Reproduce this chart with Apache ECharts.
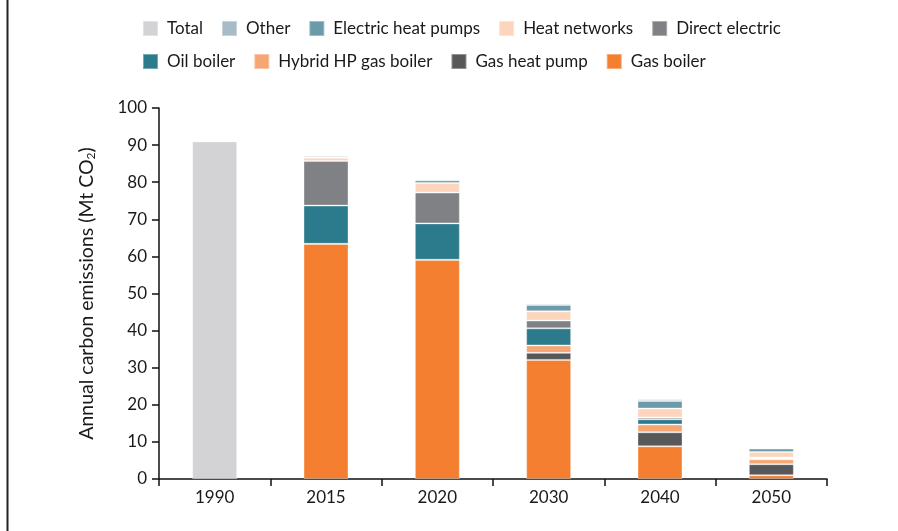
<!DOCTYPE html>
<html>
<head>
<meta charset="utf-8">
<script src="https://cdn.jsdelivr.net/npm/echarts@6/dist/echarts.min.js"></script>
<style>
  html, body { margin: 0; padding: 0; background: #fff; }
  #chart { width: 898px; height: 531px; }
</style>
</head>
<body>
<div id="chart"></div>
<script>
var years = ['1990', '2015', '2020', '2030', '2040', '2050'];

// Mt CO2
var total          = [91.0, '-', '-', '-', '-', '-'];
var gasBoiler      = ['-', 63.4, 59.1, 32.1, 8.8, 1.0];
var gasHeatPump    = ['-', 0, 0, 1.9, 3.8, 3.0];
var hybridHP       = ['-', 0, 0, 2.0, 2.1, 1.3];
var oilBoiler      = ['-', 10.3, 9.8, 4.6, 1.4, 0.3];
var directElectric = ['-', 12.0, 8.3, 2.1, 0.5, 0.2];
var heatNetworks   = ['-', 0.9, 2.6, 2.5, 2.4, 1.5];
var electricHP     = ['-', 0.2, 0.7, 1.7, 2.0, 0.9];
var other          = ['-', 0.4, 0.3, 0.4, 0.5, 0.3];

var legendRow1 = ['Total', 'Other', 'Electric heat pumps', 'Heat networks', 'Direct electric'];
var legendRow2 = ['Oil boiler', 'Hybrid HP gas boiler', 'Gas heat pump', 'Gas boiler'];

var font = 'Lato';

function bar(name, data, color) {
    return {
        name: name,
        type: 'bar',
        stack: 'all',
        barWidth: 45,
        data: data,
        itemStyle: { color: color, borderColor: 'rgba(255,255,255,0.35)', borderWidth: 1 },
        emphasis: { disabled: true }
    };
}

var myChart = echarts.init(document.getElementById('chart'));

var legendBase = {
    left: 137,
    icon: 'rect',
    itemWidth: 15,
    itemHeight: 15,
    itemGap: 18,
    textStyle: { fontFamily: font, fontSize: 17, color: '#1a1a1a', padding: [0, 0, 0, 4] }
};

var option = {
    animation: false,
    textStyle: { fontFamily: font },
    legend: [
        Object.assign({}, legendBase, { top: 15, data: legendRow1 }),
        Object.assign({}, legendBase, { top: 48, data: legendRow2 })
    ],
    grid: { left: 159, right: 71, top: 108, bottom: 52, containLabel: false },
    xAxis: {
        type: 'category',
        data: years,
        axisLine: { lineStyle: { color: '#111', width: 1.5 } },
        axisTick: { show: true, length: 7, lineStyle: { color: '#111', width: 1.5 } },
        axisLabel: { color: '#1a1a1a', fontSize: 17, fontFamily: font, margin: 10 }
    },
    yAxis: {
        type: 'value',
        min: 0,
        max: 100,
        interval: 10,
        name: 'Annual carbon emissions (Mt CO{s|2})',
        nameLocation: 'middle',
        nameGap: 62,
        nameTextStyle: {
            fontFamily: font, fontSize: 19.5, color: '#1a1a1a',
            rich: { s: { fontFamily: font, fontSize: 12, color: '#1a1a1a', verticalAlign: 'bottom', padding: [7, 0, 0, 0] } }
        },
        axisLine: { show: true, lineStyle: { color: '#111', width: 1.5 } },
        axisTick: { show: true, length: 7, lineStyle: { color: '#111', width: 1.5 } },
        axisLabel: { color: '#1a1a1a', fontSize: 17, fontFamily: font, margin: 12 },
        splitLine: { show: false }
    },
    graphic: [{
        type: 'line',
        shape: { x1: 7.5, y1: 0, x2: 7.5, y2: 531 },
        style: { stroke: '#222', lineWidth: 2 }
    }],
    series: [
        bar('Total', total, '#d3d3d5'),
        bar('Gas boiler', gasBoiler, '#f47f31'),
        bar('Gas heat pump', gasHeatPump, '#58585a'),
        bar('Hybrid HP gas boiler', hybridHP, '#f6a672'),
        bar('Oil boiler', oilBoiler, '#2b7b8c'),
        bar('Direct electric', directElectric, '#808184'),
        bar('Heat networks', heatNetworks, '#fdd5bc'),
        bar('Electric heat pumps', electricHP, '#6b9aa8'),
        bar('Other', other, '#a8bcc8')
    ]
};

myChart.setOption(option);
</script>
</body>
</html>
